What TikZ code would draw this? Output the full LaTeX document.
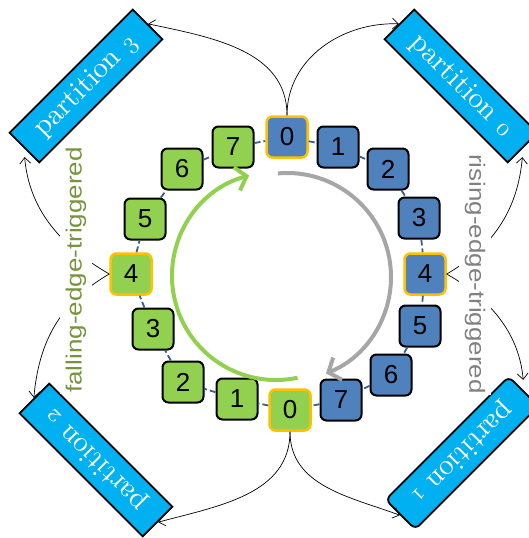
\documentclass[tikz,border=0pt]{standalone}
\usepackage{fontspec}
\setsansfont{Liberation Sans}
\newfontfamily\trigfont[FakeStretch=1.18]{Liberation Sans}
\newfontfamily\partfont{lmroman10-regular.otf}
\newcommand\osnum[1]{{\usefont{OML}{lmm}{m}{it}#1}}
\usetikzlibrary{arrows.meta,calc}
\definecolor{cellblue}{HTML}{4F81BD}
\definecolor{cellgreen}{HTML}{92D050}
\definecolor{rimyellow}{HTML}{FFC000}
\definecolor{partcyan}{HTML}{00B0F0}
\definecolor{ringblue}{HTML}{3B5E8C}
\definecolor{fallgreen}{HTML}{77933C}
\definecolor{risegray}{HTML}{808080}
\definecolor{arcgray}{HTML}{A6A6A6}
\tikzset{
  cell/.style={draw=black,line width=2pt,rounded corners=6pt,minimum size=41pt,inner sep=0pt,font=\fontsize{26}{26}\sffamily},
  bluecell/.style={cell,fill=cellblue},
  greencell/.style={cell,fill=cellgreen},
  rimcell/.style={draw=rimyellow,line width=2.5pt},
  part/.style={draw=black,line width=1.8pt,fill=partcyan,text=white,minimum width=174pt,minimum height=42pt,inner sep=0pt,font=\fontsize{29}{29}\partfont},
  trig/.style={fill=white,inner xsep=1pt,inner ysep=6pt,font=\fontsize{22}{22}\trigfont},
  ring/.style={draw=ringblue,line width=1.8pt,dash pattern=on 6pt off 3pt},
  feed/.style={->,line width=0.7pt},
  turn/.style={line width=4pt,-{Straight Barb[length=10pt,width=24pt]}}
}
\begin{document}
\begin{tikzpicture}[x=1pt,y=1pt,>={Straight Barb[length=6pt,width=11pt]}]
\useasboundingbox (0,0) rectangle (528,-538);
\node[part,rotate=45] (p3) at (86,-86) {partition \osnum{3}};
\node[part,rotate=-45] (p0) at (461,-86) {partition \osnum{0}};
\node[part,rotate=-135,rounded corners=6pt] (p1) at (462,-453) {partition \osnum{1}};
\node[part,rotate=135] (p2) at (96,-460) {partition \osnum{2}};
\node[bluecell,rimcell] (b0) at (287,-137) {0};
\node[bluecell] (b1) at (338,-147) {1};
\node[bluecell] (b2) at (388,-169) {2};
\node[bluecell] (b3) at (419,-218) {3};
\node[bluecell,rimcell] (b4) at (425,-274) {4};
\node[bluecell] (b5) at (420,-326) {5};
\node[bluecell] (b6) at (391,-375) {6};
\node[bluecell] (b7) at (341,-400) {7};
\node[greencell,rimcell] (g0) at (290,-410) {0};
\node[greencell] (g1) at (237,-399) {1};
\node[greencell] (g2) at (183,-382) {2};
\node[greencell] (g3) at (153,-329) {3};
\node[greencell,rimcell] (g4) at (131,-274) {4};
\node[greencell] (g5) at (145,-219) {5};
\node[greencell] (g6) at (182,-169) {6};
\node[greencell] (g7) at (233,-147) {7};
\foreach \a/\b in {b0/b1,b1/b2,b2/b3,b3/b4,b4/b5,b5/b6,b6/b7,b7/g0,g0/g1,g1/g2,g2/g3,g3/g4,g4/g5,g5/g6,g6/g7,g7/b0}
  \draw[ring] (\a) -- (\b);
\coordinate (gc) at (276,-276);
\coordinate (rc) at (287,-277);
\draw[turn,cellgreen] ([shift={(-78:104)}]gc) arc[start angle=-78,end angle=-255,radius=104];
\draw[turn,arcgray] ([shift={(95:104)}]rc) arc[start angle=95,end angle=-68,radius=104];
\draw[feed] (b0.north) to[out=90,in=-12] (p3.east);
\draw[feed] (b0.north) to[out=90,in=178] (p0.west);
\draw[feed,shorten >=9pt] (b4.east) to[out=30,in=-95] (p0.east);
\draw[feed,shorten >=11pt] (b4.east) to[out=-30,in=95] (p1.west);
\draw[feed,shorten >=9pt] (g4.west) to[out=150,in=-85] (p3.west);
\draw[feed] (g4.west) to[out=-150,in=85] (p2.east);
\draw[feed] (g0.south) to[out=-90,in=15] (p2.west);
\draw[feed] (g0.south) to[out=-90,in=160] (p1.east);
\node[trig,rotate=90,text=fallgreen] (fall) at (76,-270) {falling-edge-triggered};
\node[trig,rotate=-90,text=risegray] (rise) at (475,-274) {rising-edge-triggered};
\end{tikzpicture}
\end{document}
